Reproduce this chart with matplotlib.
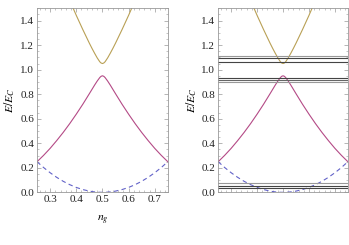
import matplotlib
matplotlib.use('Agg')
import matplotlib.pyplot as plt
from matplotlib.ticker import MultipleLocator

plt.rcParams['font.family'] = ['Liberation Serif', 'DejaVu Serif']
plt.rcParams['mathtext.fontset'] = 'stix'

# gate charge and the three lowest energy levels (in units of E_C)
ng = [0.25, 0.275, 0.30, 0.325, 0.35, 0.375, 0.40, 0.425, 0.45, 0.46, 0.47,
      0.48, 0.49, 0.495, 0.50, 0.505, 0.51, 0.52, 0.53, 0.54, 0.55, 0.575,
      0.60, 0.625, 0.65, 0.675, 0.70, 0.725, 0.75]
e_ground = [0.25, 0.2025, 0.16, 0.1225, 0.09, 0.0625, 0.04, 0.0225, 0.01,
            0.0064, 0.0036, 0.0016, 0.0004, 0.0001, 0.0, 0.0001, 0.0004,
            0.0016, 0.0036, 0.0064, 0.01, 0.0225, 0.04, 0.0625, 0.09,
            0.1225, 0.16, 0.2025, 0.25]
e_lower = [0.249, 0.301, 0.358, 0.421, 0.488, 0.560, 0.637, 0.718, 0.804,
           0.839, 0.874, 0.907, 0.936, 0.946, 0.950, 0.946, 0.936, 0.907,
           0.874, 0.839, 0.804, 0.718, 0.637, 0.560, 0.488, 0.421, 0.358,
           0.301, 0.249]
e_upper = [2.251, 2.104, 1.962, 1.824, 1.692, 1.565, 1.443, 1.327, 1.216,
           1.174, 1.134, 1.096, 1.064, 1.054, 1.050, 1.054, 1.064, 1.096,
           1.134, 1.174, 1.216, 1.327, 1.443, 1.565, 1.692, 1.824, 1.962,
           2.104, 2.251]

# level lines shown in the right panel
levels = [0.033, 0.051, 0.073, 0.900, 0.913, 0.932, 1.060, 1.095, 1.112]
level_colors = ['#444444', '#444444', '#999999', '#999999', '#666666',
                '#444444', '#444444', '#444444', '#999999']

blue = '#6262c8'
pink = '#b44a86'
gold = '#b9a055'
frame = '#999999'

fig = plt.figure(figsize=(3.49, 2.45), dpi=100)
ax1 = fig.add_axes([0.106, 0.215, 0.375, 0.751])
ax2 = fig.add_axes([0.625, 0.215, 0.372, 0.751])

for ax in (ax1, ax2):
    ax.plot(ng, e_ground, color=blue, lw=0.8, dashes=(4, 3))
    ax.plot(ng, e_lower, color=pink, lw=0.8)
    ax.plot(ng, e_upper, color=gold, lw=0.8)
    ax.set_xlim(0.25, 0.75)
    ax.set_ylim(0, 1.5)
    ax.xaxis.set_major_locator(MultipleLocator(0.1))
    ax.xaxis.set_minor_locator(MultipleLocator(0.02))
    ax.yaxis.set_major_locator(MultipleLocator(0.2))
    ax.yaxis.set_minor_locator(MultipleLocator(0.05))
    ax.tick_params(which='both', direction='in', top=True, right=True,
                   color=frame, labelsize=8, labelcolor='#222222', pad=2)
    ax.tick_params(which='major', length=3, width=0.5)
    ax.tick_params(which='minor', length=1.5, width=0.4)
    for s in ax.spines.values():
        s.set_color(frame)
        s.set_linewidth(0.6)
    ax.set_ylabel('$E/E_C$', fontsize=8.5, labelpad=2)
    ax.set_yticks([0, 0.2, 0.4, 0.6, 0.8, 1.0, 1.2, 1.4])
    ax.set_yticklabels(['0.0', '0.2', '0.4', '0.6', '0.8', '1.0', '1.2', '1.4'])

ax1.set_xticks([0.3, 0.4, 0.5, 0.6, 0.7])
ax1.set_xticklabels(['0.3', '0.4', '0.5', '0.6', '0.7'])
ax1.set_xlabel('$n_g$', fontsize=8.5, labelpad=7)
ax2.tick_params(labelbottom=False)

for lev, c in zip(levels, level_colors):
    ax2.axhline(lev, color=c, lw=0.8)

fig.savefig('out.png', dpi=100, facecolor='white')
